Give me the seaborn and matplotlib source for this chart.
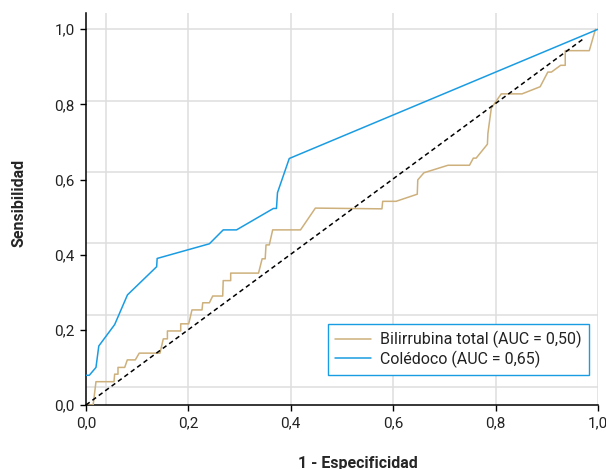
import matplotlib
matplotlib.use("Agg")
import matplotlib.pyplot as plt
import seaborn as sns
import pandas as pd
from matplotlib.ticker import FuncFormatter

# ---- data ----
fpr_bili = [0.0, 0.014, 0.0195, 0.0547, 0.056, 0.0625, 0.0625, 0.0756, 0.0807, 0.0963,
            0.104, 0.1445, 0.151, 0.159, 0.159, 0.185, 0.185, 0.2006, 0.207, 0.2266,
            0.228, 0.241, 0.2475, 0.267, 0.268, 0.2826, 0.2826, 0.337, 0.344, 0.350,
            0.3516, 0.358, 0.3646, 0.419, 0.448, 0.578, 0.5795, 0.6055, 0.647, 0.648,
            0.660, 0.707, 0.749, 0.7565, 0.762, 0.784, 0.785, 0.7916, 0.811, 0.8516,
            0.887, 0.902, 0.909, 0.927, 0.936, 0.936, 0.983, 0.995]
tpr_bili = [0.0, 0.0, 0.062, 0.062, 0.082, 0.082, 0.100, 0.100, 0.120, 0.120,
            0.138, 0.138, 0.176, 0.176, 0.197, 0.197, 0.216, 0.216, 0.253, 0.253,
            0.272, 0.272, 0.290, 0.290, 0.331, 0.331, 0.351, 0.351, 0.389, 0.389,
            0.426, 0.426, 0.466, 0.466, 0.524, 0.522, 0.542, 0.542, 0.561, 0.599,
            0.618, 0.638, 0.638, 0.657, 0.657, 0.694, 0.723, 0.790, 0.828, 0.828,
            0.847, 0.886, 0.886, 0.904, 0.904, 0.943, 0.943, 1.0]

fpr_col = [0.0, 0.0065, 0.0195, 0.025, 0.056, 0.081, 0.138, 0.139, 0.241, 0.268,
           0.294, 0.366, 0.372, 0.374, 0.397, 1.0]
tpr_col = [0.079, 0.079, 0.100, 0.157, 0.214, 0.293, 0.368, 0.390, 0.429, 0.466,
           0.466, 0.523, 0.523, 0.565, 0.656, 1.0]

series_names = ["Bilirrubina total (AUC = 0,50)", "Colédoco (AUC = 0,65)"]
chance_x = [0.0, 0.97]
chance_y = [0.0, 0.973]
tick_values = [0.0, 0.2, 0.4, 0.6, 0.8, 1.0]
grid_x = [0.04, 0.2, 0.4, 0.6, 0.8, 1.0]
grid_y = [0.049, 0.24, 0.43, 0.62, 0.81, 1.0]

# ---- styling ----
sns.set_style("white")
plt.rcParams["font.family"] = ["Roboto", "DejaVu Sans"]

df = pd.concat([
    pd.DataFrame({"fpr": fpr_bili, "tpr": tpr_bili, "serie": series_names[0]}),
    pd.DataFrame({"fpr": fpr_col, "tpr": tpr_col, "serie": series_names[1]}),
], ignore_index=True)

palette = {series_names[0]: "#cdb07b", series_names[1]: "#1a9ce2"}

fig = plt.figure(figsize=(6.06, 4.69), dpi=100)
ax = fig.add_axes([0.1419, 0.1365, 0.8449, 0.8364])

for gx in grid_x:
    ax.axvline(gx, color="#dedede", lw=1.1, zorder=0)
for gy in grid_y:
    ax.axhline(gy, color="#dedede", lw=1.1, zorder=0)

sns.lineplot(data=df, x="fpr", y="tpr", hue="serie", palette=palette,
             sort=False, estimator=None, units="serie", lw=1.1, ax=ax, zorder=3)

ax.plot(chance_x, chance_y, color="black", lw=1.1, ls=(0, (3, 2.2)), zorder=4)

ax.set_xlim(0, 1)
ax.set_ylim(0, 1.044)
ax.set_xticks(tick_values)
ax.set_yticks(tick_values)
fmt = FuncFormatter(lambda v, p: f"{v:.1f}".replace(".", ","))
ax.xaxis.set_major_formatter(fmt)
ax.yaxis.set_major_formatter(fmt)
ax.tick_params(axis="both", which="major", length=4.5, width=1.0, color="black",
               labelsize=11, labelcolor="#222222", pad=3.5, direction="out",
               bottom=True, left=True)

for s in ["top", "right"]:
    ax.spines[s].set_visible(False)
for s in ["left", "bottom"]:
    ax.spines[s].set_color("black")
    ax.spines[s].set_linewidth(1.1)

ax.set_xlabel("1 - Especificidad", fontsize=11.5, fontweight="bold")
ax.set_ylabel("Sensibilidad", fontsize=11.5, fontweight="bold")
ax.xaxis.set_label_coords(0.531, -0.129)
ax.yaxis.set_label_coords(-0.117, 0.514)

leg = ax.legend(loc="lower right", bbox_to_anchor=(0.982, 0.0765), frameon=True,
                fancybox=False, fontsize=11.5, handlelength=2.25, handletextpad=0.55,
                borderpad=0.45, labelspacing=0.15, borderaxespad=0)
leg.get_frame().set_edgecolor("#1a9ce2")
leg.get_frame().set_linewidth(1.0)
leg.get_frame().set_alpha(1)
for t in leg.get_texts():
    t.set_color("#222222")
for l in leg.get_lines():
    l.set_linewidth(1.1)

fig.savefig("out.png", dpi=100)
